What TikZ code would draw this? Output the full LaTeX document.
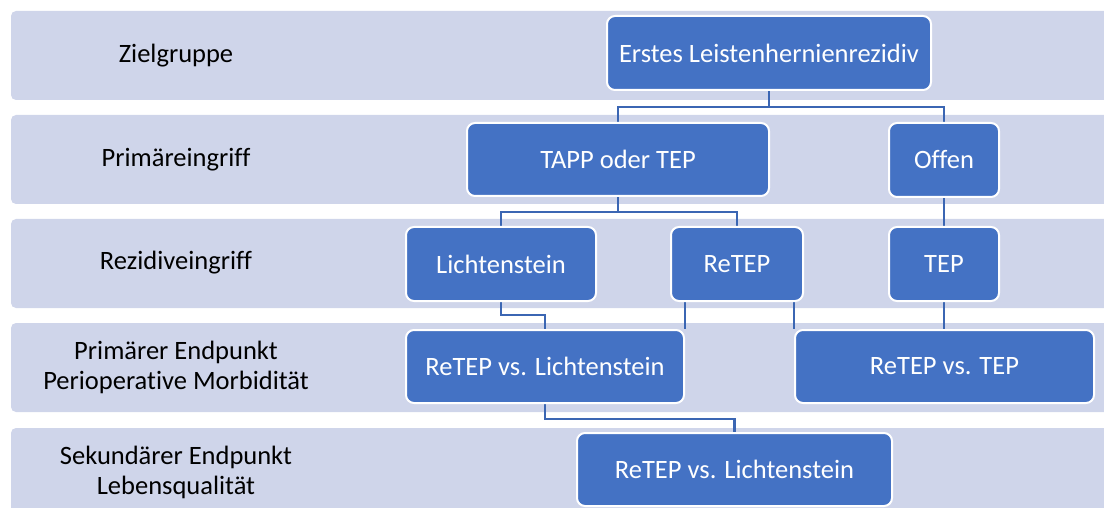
\documentclass[tikz,border=0pt]{standalone}
\usepackage{fontspec}
\setmainfont{Carlito}[Ligatures=NoCommon]
\usetikzlibrary{calc}
\definecolor{bandcol}{HTML}{CFD5EA}
\definecolor{boxcol}{HTML}{4472C4}
\definecolor{conncol}{HTML}{3B66B3}
\pgfdeclarelayer{bg}
\pgfdeclarelayer{mid}
\pgfsetlayers{bg,mid,main}
\tikzset{
  band/.style={fill=bandcol, draw=none, rounded corners=5pt},
  box/.style={rectangle, fill=boxcol, draw=white, line width=2pt, rounded corners=8pt,
    text=white, font=\fontsize{26.5}{31}\selectfont, inner sep=0pt},
  lbl/.style={text=black, font=\fontsize{26.5}{30}\selectfont, align=center, inner sep=0pt},
  conn/.style={draw=conncol, line width=2.6pt}
}
\begin{document}
\begin{tikzpicture}[x=1pt, y=-1pt]
\useasboundingbox (0,0) rectangle (1104,508);
\clip (0,0) rectangle (1104,508);
\begin{pgfonlayer}{bg}
  \fill[band] (11,11) rectangle (1115,100);
  \fill[band] (11,115) rectangle (1115,204);
  \fill[band] (11,219) rectangle (1115,308);
  \fill[band] (11,323) rectangle (1115,412);
  \fill[band] (11,428) rectangle (1115,520);
\end{pgfonlayer}
% row labels
\node[lbl] (l1) at (176,56) {Zielgruppe};
\node[lbl] (l2) at (176,160) {Primäreingriff};
\node[lbl] (l3) at (176,263) {Rezidiveingriff};
\node[lbl] (l4) at (176,367) {Primärer Endpunkt\\Perioperative Morbidität};
\node[lbl] (l5) at (176,472) {Sekundärer Endpunkt\\Lebensqualität};
% boxes
\node[box, minimum width=324pt, minimum height=74pt] (erst) at (769,53) {Erstes Leistenhernienrezidiv};
\node[box, minimum width=302pt, minimum height=73pt] (tapp) at (618,159.5) {TAPP oder TEP};
\node[box, minimum width=110pt, minimum height=74pt] (offen) at (944,160) {Offen};
\node[box, minimum width=190pt, minimum height=74pt] (licht) at (501,264) {Lichtenstein};
\node[box, minimum width=132pt, minimum height=74pt] (retep) at (737,264) {ReTEP};
\node[box, minimum width=110pt, minimum height=74pt] (tep) at (944,264) {TEP};
\node[box, minimum width=278pt, minimum height=73pt] (rl) at (545,366.5) {ReTEP vs. Lichtenstein};
\node[box, minimum width=299pt, minimum height=73pt] (rt) at (944.5,366.5) {ReTEP vs. TEP};
\node[box, minimum width=315pt, minimum height=73pt] (rl2) at (734.5,469.5) {ReTEP vs. Lichtenstein};
% connectors
\coordinate (j1) at (769,107);
\coordinate (j2) at (618,212);
\coordinate (j3) at (523,315);
\coordinate (j4) at (640,419);
\begin{pgfonlayer}{mid}
  \draw[conn] (erst.south) -- (j1);
  \draw[conn] (tapp.north) |- (j1) -| (offen.north);
  \draw[conn] (tapp.south) -- (j2);
  \draw[conn] (licht.north) |- (j2) -| (retep.north);
  \draw[conn] (offen.south) -- (tep.north);
  \draw[conn] (licht.south) |- (j3) -| (rl.north);
  \draw[conn] (retep.south -| rl.north east) -- (rl.north east);
  \draw[conn] (retep.south -| rt.north west) -- (rt.north west);
  \draw[conn] (tep.south) -- (tep.south |- rt.north);
  \draw[conn] (rl.south) |- (j4) -| (rl2.north);
\end{pgfonlayer}
\end{tikzpicture}
\end{document}
